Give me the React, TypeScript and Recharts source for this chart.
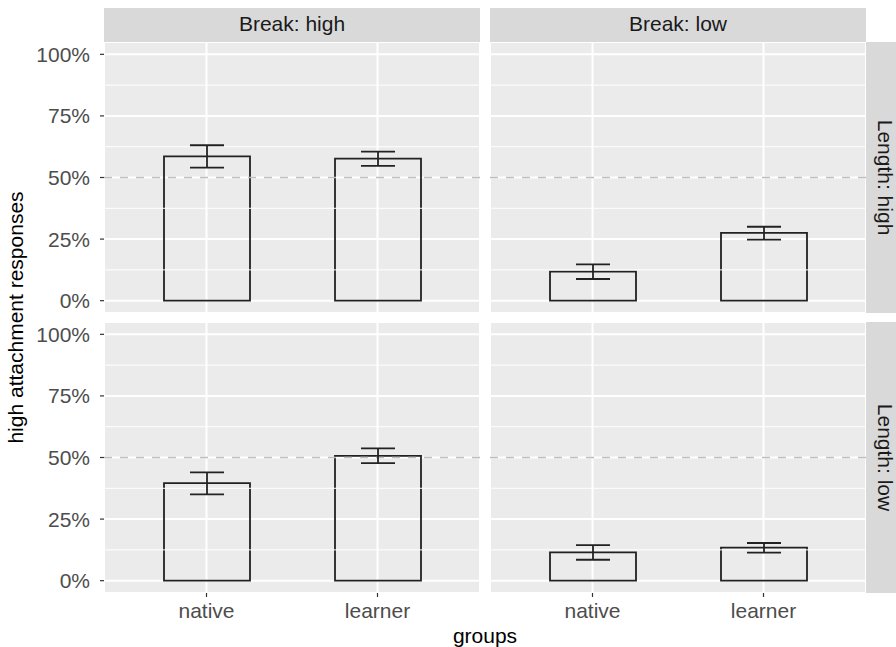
import { ComposedChart, Bar, ErrorBar, XAxis, YAxis, CartesianGrid, ReferenceLine } from 'recharts';

const groups = ['native', 'learner'];

// mean share of high attachment responses, per facet
const breakHighLengthHigh = [0.586, 0.577];
const breakHighLengthHighLo = [0.54, 0.547];
const breakHighLengthHighHi = [0.631, 0.605];

const breakLowLengthHigh = [0.118, 0.275];
const breakLowLengthHighLo = [0.088, 0.248];
const breakLowLengthHighHi = [0.147, 0.3];

const breakHighLengthLow = [0.396, 0.507];
const breakHighLengthLowLo = [0.35, 0.477];
const breakHighLengthLowHi = [0.44, 0.537];

const breakLowLengthLow = [0.115, 0.134];
const breakLowLengthLowLo = [0.085, 0.114];
const breakLowLengthLowHi = [0.144, 0.153];

const majorBreaks = [0, 0.25, 0.5, 0.75, 1];
const minorBreaks = [0.125, 0.375, 0.625, 0.875];

const FONT = '"Liberation Sans", Arial, sans-serif';
const FS = 21;
const PANEL_W = 376;
const PANEL_H = 271;

function toRows(vals: number[], lo: number[], hi: number[]) {
  return groups.map((g, i) => ({
    group: g,
    value: vals[i],
    err: [vals[i] - lo[i], hi[i] - vals[i]],
  }));
}

interface PanelProps {
  rows: { group: string; value: number; err: number[] }[];
  showY: boolean;
  showX: boolean;
  left: number;
  top: number;
}

function Panel({ rows, showY, showX, left, top }: PanelProps) {
  const yw = showY ? 104 : 0;
  const xh = showX ? 40 : 0;
  return (
    <div style={{ position: 'absolute', left, top }}>
      <ComposedChart
        width={PANEL_W + yw}
        height={PANEL_H + xh}
        data={rows}
        margin={{ top: 0, right: 0, bottom: 0, left: 0 }}
        barSize={86}
      >
        <CartesianGrid fill="#EBEBEB" stroke="#FFFFFF" strokeWidth={2} />
        {minorBreaks.map((b) => (
          <ReferenceLine key={b} y={b} stroke="#FFFFFF" strokeWidth={1} />
        ))}
        <ReferenceLine y={0.5} stroke="#BEBEBE" strokeWidth={1.6} strokeDasharray="8 8" />
        <XAxis
          dataKey="group"
          type="category"
          hide={!showX}
          height={xh}
          padding={{ left: 17, right: 17 }}
          axisLine={false}
          interval={0}
          tickSize={4}
          tickMargin={6}
          tickLine={{ stroke: '#333333', strokeWidth: 1.2 }}
          tick={{ fill: '#4D4D4D', fontSize: FS, fontFamily: FONT }}
        />
        <YAxis
          type="number"
          domain={[-0.05, 1.05]}
          ticks={majorBreaks}
          interval={0}
          allowDataOverflow
          hide={!showY}
          width={yw}
          axisLine={false}
          tickSize={4}
          tickMargin={10}
          tickLine={{ stroke: '#333333', strokeWidth: 1.2 }}
          tick={{ fill: '#4D4D4D', fontSize: FS, fontFamily: FONT }}
          tickFormatter={(v: number) => `${Math.round(v * 100)}%`}
        />
        <Bar dataKey="value" fill="none" stroke="#222222" strokeWidth={1.8} isAnimationActive={false}>
          <ErrorBar dataKey="err" width={17} stroke="#222222" strokeWidth={1.8} direction="y" />
        </Bar>
      </ComposedChart>
    </div>
  );
}

export default function App() {
  return (
    <div style={{ position: 'absolute', left: 0, top: 0, width: 896, height: 647, background: '#fff', fontFamily: FONT }}>
      <svg width={896} height={647} style={{ position: 'absolute', left: 0, top: 0 }}>
        <rect x={104} y={8} width={376} height={34} fill="#D9D9D9" />
        <rect x={490} y={8} width={376} height={34} fill="#D9D9D9" />
        <rect x={866} y={42} width={32} height={271} fill="#D9D9D9" />
        <rect x={866} y={322} width={32} height={271} fill="#D9D9D9" />
        <text x={292} y={31} textAnchor="middle" fontSize={FS} fill="#1A1A1A" fontFamily={FONT}>Break: high</text>
        <text x={678} y={31} textAnchor="middle" fontSize={FS} fill="#1A1A1A" fontFamily={FONT}>Break: low</text>
        <text transform="translate(878,177.5) rotate(90)" textAnchor="middle" fontSize={FS} fill="#1A1A1A" fontFamily={FONT}>Length: high</text>
        <text transform="translate(878,457.5) rotate(90)" textAnchor="middle" fontSize={FS} fill="#1A1A1A" fontFamily={FONT}>Length: low</text>
        <text transform="translate(23,317.5) rotate(-90)" textAnchor="middle" fontSize={FS} fill="#000000" fontFamily={FONT}>high attachment responses</text>
        <text x={485} y={643} textAnchor="middle" fontSize={FS} fill="#000000" fontFamily={FONT}>groups</text>
      </svg>
      <Panel rows={toRows(breakHighLengthHigh, breakHighLengthHighLo, breakHighLengthHighHi)} showY showX={false} left={0} top={42} />
      <Panel rows={toRows(breakLowLengthHigh, breakLowLengthHighLo, breakLowLengthHighHi)} showY={false} showX={false} left={490} top={42} />
      <Panel rows={toRows(breakHighLengthLow, breakHighLengthLowLo, breakHighLengthLowHi)} showY showX left={0} top={322} />
      <Panel rows={toRows(breakLowLengthLow, breakLowLengthLowLo, breakLowLengthLowHi)} showY={false} showX left={490} top={322} />
    </div>
  );
}
